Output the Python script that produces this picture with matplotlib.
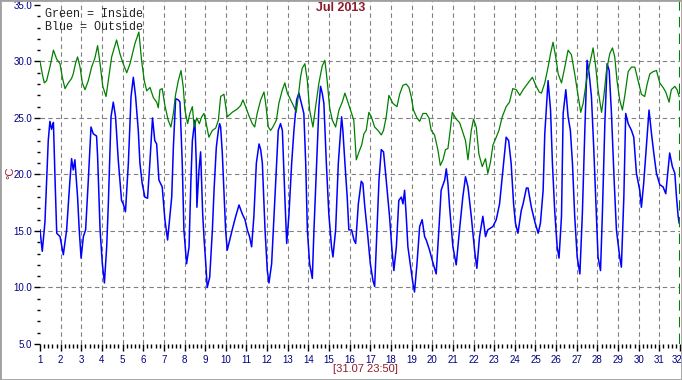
import matplotlib
matplotlib.use("Agg")
import matplotlib.pyplot as plt
from matplotlib.ticker import AutoMinorLocator, FormatStrFormatter
from matplotlib.patches import Rectangle
from matplotlib.transforms import ScaledTranslation

# outside sensor (blue), day of month -> degC
out_day = [1.00, 1.11, 1.24, 1.32, 1.40, 1.48, 1.56, 1.60, 1.65, 1.73, 1.81, 1.97,
           2.13, 2.29, 2.45, 2.53, 2.61, 2.69, 2.82, 2.90, 2.99, 3.10, 3.21, 3.34,
           3.47, 3.58, 3.74, 3.79, 3.91, 4.02, 4.12, 4.23, 4.31, 4.44, 4.55, 4.66,
           4.79, 4.95, 5.03, 5.14, 5.28, 5.41, 5.52, 5.63, 5.76, 5.84, 5.95, 6.08,
           6.21, 6.32, 6.45, 6.56, 6.65, 6.76, 6.92, 7.05, 7.18, 7.29, 7.38, 7.46,
           7.57, 7.70, 7.78, 7.89, 7.97, 8.10, 8.22, 8.31, 8.38, 8.50, 8.57, 8.60,
           8.70, 8.78, 8.88, 8.95, 9.02, 9.10, 9.22, 9.35, 9.43, 9.54, 9.64, 9.70,
           9.75, 9.83, 9.91, 9.99, 10.07, 10.19, 10.31, 10.48, 10.64, 10.80, 10.93, 11.04,
           11.15, 11.25, 11.36, 11.48, 11.61, 11.69, 11.77, 11.90, 12.01, 12.09, 12.22, 12.38,
           12.54, 12.65, 12.74, 12.86, 12.95, 13.06, 13.19, 13.30, 13.43, 13.54, 13.62, 13.78,
           13.87, 13.95, 14.06, 14.19, 14.27, 14.43, 14.51, 14.59, 14.67, 14.75, 14.87, 14.99,
           15.12, 15.19, 15.32, 15.45, 15.61, 15.67, 15.77, 15.88, 15.96, 16.09, 16.21, 16.29,
           16.42, 16.56, 16.64, 16.72, 16.88, 17.00, 17.13, 17.21, 17.29, 17.42, 17.53, 17.64,
           17.77, 17.93, 18.05, 18.14, 18.26, 18.38, 18.50, 18.58, 18.66, 18.74, 18.82, 18.93,
           19.06, 19.14, 19.26, 19.39, 19.51, 19.63, 19.71, 19.87, 20.00, 20.19, 20.32, 20.43,
           20.60, 20.68, 20.76, 20.84, 21.00, 21.16, 21.32, 21.48, 21.61, 21.73, 21.89, 22.05,
           22.16, 22.29, 22.45, 22.58, 22.69, 22.94, 23.10, 23.26, 23.42, 23.58, 23.70, 23.82,
           23.94, 24.03, 24.15, 24.31, 24.40, 24.56, 24.64, 24.80, 24.97, 25.13, 25.24, 25.37,
           25.45, 25.61, 25.73, 25.82, 25.93, 26.05, 26.14, 26.26, 26.34, 26.47, 26.58, 26.69,
           26.79, 26.90, 27.02, 27.15, 27.27, 27.39, 27.50, 27.60, 27.71, 27.82, 27.95, 28.03,
           28.15, 28.24, 28.36, 28.47, 28.57, 28.68, 28.81, 28.92, 29.08, 29.16, 29.28, 29.37,
           29.49, 29.65, 29.76, 29.89, 30.05, 30.13, 30.24, 30.37, 30.50, 30.62, 30.73, 30.86,
           31.02, 31.18, 31.31, 31.42, 31.50, 31.63, 31.75, 31.83, 31.91, 31.96]
out_temp = [15.1, 13.2, 15.8, 19.5, 23.0, 24.7, 24.0, 24.3, 24.6, 19.5, 14.8, 14.5,
            12.9, 15.1, 19.5, 21.4, 20.4, 21.3, 18.0, 15.1, 12.6, 14.5, 15.1, 19.5,
            24.2, 23.6, 23.4, 21.6, 15.1, 12.1, 10.4, 13.6, 17.4, 25.1, 26.4, 25.1,
            21.3, 17.7, 17.4, 16.7, 21.0, 26.9, 28.6, 26.9, 23.9, 21.0, 19.2, 18.0,
            17.9, 21.0, 25.0, 23.0, 22.7, 19.5, 18.9, 16.0, 14.2, 16.3, 18.0, 22.4,
            26.7, 26.6, 26.4, 21.0, 15.1, 12.1, 13.6, 19.5, 23.0, 24.8, 21.0, 17.1,
            20.4, 22.0, 16.5, 14.2, 12.4, 10.0, 10.9, 15.1, 18.6, 22.4, 23.9, 24.5,
            24.2, 21.9, 18.6, 15.1, 13.3, 14.2, 15.1, 16.3, 17.3, 16.5, 16.0, 15.1,
            14.5, 13.6, 16.3, 21.0, 22.7, 22.2, 21.0, 15.1, 11.5, 10.4, 12.1, 18.0,
            23.9, 24.5, 23.9, 18.0, 13.9, 16.5, 21.0, 23.9, 26.6, 27.2, 26.6, 25.4,
            21.0, 15.1, 12.1, 10.8, 15.1, 22.4, 26.0, 27.8, 27.2, 26.3, 21.0, 16.5,
            13.6, 12.7, 15.1, 21.0, 25.1, 23.9, 21.0, 18.0, 15.1, 15.1, 14.2, 13.9,
            17.4, 19.4, 19.2, 17.4, 14.5, 12.1, 10.6, 10.1, 13.6, 19.5, 22.2, 22.0,
            19.5, 16.3, 13.3, 11.5, 13.6, 17.7, 18.0, 17.4, 18.6, 16.3, 13.6, 12.1,
            10.4, 9.6, 12.1, 15.4, 16.0, 14.5, 14.2, 13.3, 12.4, 11.2, 15.1, 18.6,
            19.5, 20.5, 19.2, 17.1, 13.6, 12.0, 15.1, 18.0, 19.8, 18.9, 16.3, 13.3,
            11.7, 14.5, 16.3, 14.5, 15.1, 15.4, 16.0, 17.4, 20.4, 23.3, 23.0, 21.0,
            17.4, 15.7, 14.8, 16.8, 17.4, 18.8, 18.8, 17.1, 15.8, 14.8, 15.7, 18.6,
            23.6, 28.3, 25.7, 21.0, 16.8, 13.6, 12.6, 16.3, 25.4, 27.5, 25.1, 23.9,
            21.0, 16.3, 12.7, 11.2, 16.5, 23.9, 30.1, 28.9, 26.9, 22.4, 16.3, 12.7,
            11.5, 16.5, 24.5, 29.8, 29.2, 25.4, 19.5, 15.1, 12.7, 11.8, 18.0, 25.4,
            24.5, 23.9, 23.3, 20.1, 18.6, 17.1, 19.2, 22.4, 25.7, 23.6, 21.9, 20.1,
            19.1, 18.9, 18.3, 20.4, 21.9, 20.7, 20.1, 18.0, 16.3, 15.7]

# inside sensor (green)
in_day = [1.00, 1.11, 1.21, 1.32, 1.48, 1.65, 1.81, 1.97, 2.08, 2.21, 2.37, 2.53,
          2.61, 2.73, 2.82, 2.94, 3.05, 3.18, 3.34, 3.50, 3.66, 3.79, 3.91, 4.04,
          4.20, 4.31, 4.47, 4.71, 4.87, 5.03, 5.20, 5.36, 5.60, 5.79, 5.92, 6.05,
          6.17, 6.33, 6.49, 6.65, 6.73, 6.81, 6.92, 7.05, 7.21, 7.34, 7.46, 7.57,
          7.70, 7.83, 7.94, 8.02, 8.15, 8.26, 8.38, 8.47, 8.59, 8.72, 8.83, 8.94,
          9.02, 9.18, 9.35, 9.51, 9.64, 9.75, 9.91, 10.07, 10.31, 10.56, 10.72, 10.83,
          10.96, 11.12, 11.28, 11.40, 11.52, 11.69, 11.85, 11.93, 12.06, 12.17, 12.28, 12.45,
          12.57, 12.74, 12.86, 12.98, 13.14, 13.30, 13.41, 13.51, 13.62, 13.70, 13.83, 13.95,
          14.06, 14.22, 14.35, 14.51, 14.67, 14.80, 14.91, 15.03, 15.16, 15.32, 15.48, 15.64,
          15.77, 15.88, 16.04, 16.20, 16.32, 16.45, 16.58, 16.69, 16.80, 16.93, 17.05, 17.21,
          17.37, 17.53, 17.64, 17.77, 17.90, 18.09, 18.29, 18.42, 18.58, 18.74, 18.87, 18.98,
          19.09, 19.26, 19.39, 19.55, 19.71, 19.84, 19.95, 20.11, 20.27, 20.39, 20.52, 20.64,
          20.76, 20.87, 20.97, 21.16, 21.32, 21.45, 21.61, 21.73, 21.89, 22.00, 22.13, 22.26,
          22.42, 22.58, 22.69, 22.81, 22.94, 23.10, 23.23, 23.39, 23.58, 23.74, 23.90, 24.07,
          24.24, 24.40, 24.56, 24.85, 25.01, 25.18, 25.29, 25.45, 25.61, 25.73, 25.85, 25.98,
          26.10, 26.26, 26.42, 26.58, 26.74, 26.90, 27.07, 27.19, 27.31, 27.47, 27.63, 27.79,
          27.92, 28.03, 28.20, 28.31, 28.44, 28.60, 28.73, 28.84, 28.95, 29.08, 29.21, 29.32,
          29.49, 29.65, 29.81, 29.97, 30.13, 30.29, 30.41, 30.54, 30.70, 30.86, 31.02, 31.18,
          31.31, 31.47, 31.58, 31.75, 31.86, 31.96]
in_temp = [30.0, 28.9, 28.1, 28.3, 29.5, 31.0, 30.2, 29.8, 28.6, 27.6, 28.1, 28.5,
           28.9, 29.9, 30.4, 29.5, 28.1, 27.5, 28.3, 29.5, 30.3, 31.4, 29.8, 27.8,
           26.9, 28.3, 30.4, 31.9, 30.7, 29.8, 29.0, 29.8, 31.6, 32.6, 30.1, 28.3,
           27.4, 27.7, 26.8, 26.4, 25.9, 27.5, 27.6, 26.1, 24.8, 24.2, 25.4, 27.1,
           28.3, 29.2, 27.7, 25.7, 24.5, 25.4, 26.0, 24.2, 25.0, 24.5, 25.1, 25.4,
           24.8, 23.3, 23.9, 24.1, 24.8, 26.9, 27.1, 25.1, 25.5, 25.8, 26.1, 26.6,
           26.0, 25.2, 24.5, 24.2, 25.4, 26.6, 27.3, 26.3, 24.2, 23.9, 24.2, 24.8,
           26.3, 27.5, 28.1, 27.2, 26.6, 26.0, 25.5, 26.9, 28.6, 29.4, 29.8, 28.3,
           25.7, 24.2, 26.0, 28.1, 29.6, 30.1, 28.3, 25.9, 24.8, 24.2, 25.7, 26.4,
           27.2, 26.6, 25.7, 24.8, 21.3, 22.0, 22.6, 23.6, 23.9, 25.5, 25.1, 24.2,
           23.9, 23.5, 23.9, 25.1, 27.0, 26.3, 26.0, 27.1, 27.9, 28.0, 27.7, 26.9,
           25.7, 25.0, 24.7, 25.4, 25.4, 25.0, 23.9, 23.5, 22.2, 20.8, 21.3, 22.2,
           22.3, 23.9, 25.5, 24.9, 24.6, 23.9, 23.0, 21.3, 23.9, 24.9, 24.2, 21.8,
           20.7, 21.4, 20.1, 21.0, 22.6, 23.3, 23.9, 25.1, 26.0, 26.4, 27.6, 27.5,
           27.0, 27.5, 27.9, 28.6, 27.9, 27.3, 27.2, 28.1, 29.5, 30.7, 31.7, 30.4,
           28.9, 28.1, 29.5, 31.0, 30.6, 28.9, 26.9, 25.5, 26.3, 28.3, 29.8, 31.2,
           29.5, 27.5, 25.5, 26.9, 29.2, 30.7, 31.2, 30.4, 28.3, 26.6, 25.7, 26.9,
           29.1, 29.5, 29.5, 28.3, 27.1, 26.9, 28.0, 28.9, 29.1, 29.2, 28.1, 27.7,
           27.3, 26.4, 27.5, 27.8, 27.5, 26.9]

day_ticks = list(range(1, 33))
temp_ticks = [5, 10, 15, 20, 25, 30, 35]

navy = "#000080"
maroon = "#8e1c2a"

fig = plt.figure(figsize=(6.82, 3.80), dpi=100)
ax = fig.add_axes([40 / 682, 0.09474, 640 / 682, 0.90263])

ax.plot(out_day, out_temp, color="#0000ff", lw=1.1)
ax.plot(in_day, in_temp, color="#008000", lw=0.9)
ax.axvline(32, color="#008000", lw=1.5, ls=(0, (5, 3)))

ax.set_xlim(1, 32)
ax.set_ylim(5, 35.35)
ax.set_xticks(day_ticks)
ax.set_yticks(temp_ticks)
ax.yaxis.set_major_formatter(FormatStrFormatter("%.1f"))
ax.xaxis.set_minor_locator(AutoMinorLocator(5))
ax.yaxis.set_minor_locator(AutoMinorLocator(5))

for s in ax.spines.values():
    s.set_visible(False)

ax.tick_params(axis="x", which="major", length=5, width=1, pad=3,
               labelsize=7, labelcolor=navy)
ax.tick_params(axis="x", which="minor", length=3, width=1)
ax.tick_params(axis="y", which="major", length=4.5, width=1, pad=1,
               labelsize=7, labelcolor=navy)
ax.tick_params(axis="y", which="minor", length=2.5, width=1)
for lab in ax.get_xticklabels() + ax.get_yticklabels():
    lab.set_fontfamily("Liberation Sans")

# last day label sits against the right edge
last = ax.get_xticklabels()[-1]
last.set_horizontalalignment("right")
last.set_transform(last.get_transform() + ScaledTranslation(2 / 72, 0, fig.dpi_scale_trans))

ax.grid(True, which="major", color="#808080", lw=0.8, ls=(0, (4, 3)))
# no grid on the frame edges
for t in ax.xaxis.get_major_ticks():
    if t.get_loc() in (1, 32):
        t.gridline.set_visible(False)
for t in ax.yaxis.get_major_ticks():
    if t.get_loc() in (5, 35):
        t.gridline.set_visible(False)

fig.text(45 / 682, 1 - 16.7 / 380, "Green = Inside", family="Liberation Mono",
         fontsize=8.5, color="#222222", va="baseline")
fig.text(45 / 682, 1 - 30 / 380, "Blue = Outside", family="Liberation Mono",
         fontsize=8.5, color="#222222", va="baseline")
fig.text(341 / 682, 1 - 8 / 380, "Jul 2013", family="Liberation Sans",
         fontsize=9, fontweight="bold", color=maroon, ha="center", va="center")
fig.text(10 / 682, 1 - 173 / 380, "°C", family="Liberation Sans", fontsize=8,
         color=maroon, rotation=90, ha="center", va="center")
fig.text(365 / 682, 1 - 369 / 380, "[31.07 23:50]", family="Liberation Sans",
         fontsize=8, color=maroon, ha="center", va="center")

fig.patches.append(Rectangle((0, 0), 1, 1, transform=fig.transFigure, fill=False,
                             edgecolor="#a0a0a0", lw=2))

fig.savefig("out.png", dpi=100)
